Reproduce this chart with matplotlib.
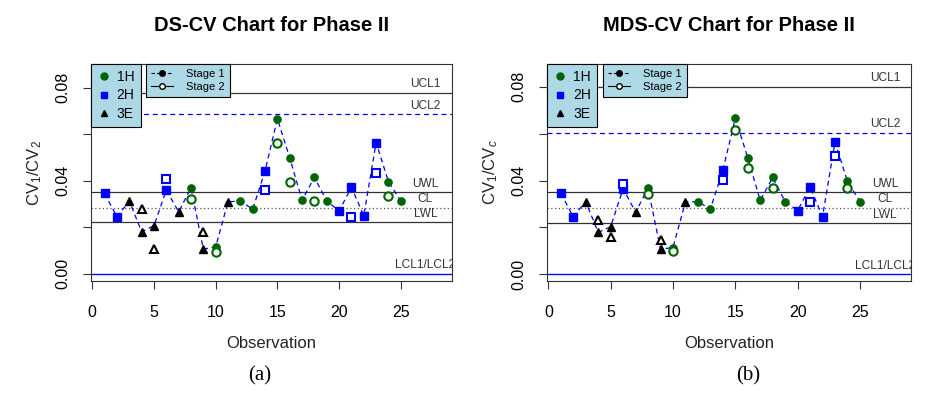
import numpy as np
import matplotlib
matplotlib.use('Agg')
import matplotlib.pyplot as plt
from matplotlib.lines import Line2D
from matplotlib.transforms import offset_copy

plt.rcParams['font.family'] = ['Liberation Sans', 'DejaVu Sans']
plt.rcParams['mathtext.fontset'] = 'custom'
plt.rcParams['mathtext.rm'] = 'Liberation Sans'
plt.rcParams['mathtext.it'] = 'Liberation Sans:italic'

# observations and group of each observation
obs = np.arange(1, 26)
group = ['2H', '2H', '3E', '3E', '3E', '2H', '3E', '1H', '3E', '1H',
         '3E', '1H', '1H', '2H', '1H', '1H', '1H', '1H', '1H', '2H',
         '2H', '2H', '2H', '1H', '1H']

nan = np.nan
# DS-CV chart, stage 1 (filled) and stage 2 (open)
ds_stage1 = [0.0345, 0.0244, 0.0312, 0.0180, 0.0206, 0.0359, 0.0266, 0.0369, 0.0105, 0.0115,
             0.0309, 0.0312, 0.0277, 0.0442, 0.0666, 0.0498, 0.0316, 0.0414, 0.0312, 0.0270,
             0.0371, 0.0249, 0.0564, 0.0395, 0.0312]
ds_stage2 = [nan, nan, nan, 0.0277, 0.0105, 0.0405, nan, 0.0323, 0.0180, 0.0091,
             nan, nan, nan, 0.0359, 0.0563, 0.0395, nan, 0.0312, nan, nan,
             0.0244, nan, 0.0435, 0.0335, nan]
ds_limits = {'UCL1': 0.0779, 'UCL2': 0.0686, 'UWL': 0.0349, 'CL': 0.0283,
             'LWL': 0.0220, 'LCL1/LCL2': 0.0}

# MDS-CV chart
mds_stage1 = [0.0346, 0.0246, 0.0310, 0.0179, 0.0203, 0.0365, 0.0265, 0.0367, 0.0107, 0.0114,
              0.0308, 0.0310, 0.0278, 0.0443, 0.0665, 0.0498, 0.0315, 0.0413, 0.0310, 0.0272,
              0.0372, 0.0246, 0.0564, 0.0396, 0.0310]
mds_stage2 = [nan, nan, nan, 0.0232, 0.0161, 0.0386, nan, 0.0343, 0.0147, 0.0101,
              nan, nan, nan, 0.0403, 0.0617, 0.0453, nan, 0.0367, nan, nan,
              0.0310, nan, 0.0503, 0.0367, nan]
mds_limits = {'UCL1': 0.0800, 'UCL2': 0.0604, 'UWL': 0.0350, 'CL': 0.0284,
              'LWL': 0.0218, 'LCL1/LCL2': 0.0}

GREEN = '#006400'
BLUE = '#0000ff'
styles = {'1H': ('o', GREEN), '2H': ('s', BLUE), '3E': ('^', 'black')}
line_style = {'UCL1': ('-', '#333333'), 'UCL2': ((0, (4, 3)), BLUE),
              'UWL': ('-', '#333333'), 'CL': ((0, (1, 2)), '#555555'),
              'LWL': ('-', '#333333'), 'LCL1/LCL2': ('-', BLUE)}


def draw_chart(ax, stage1, stage2, limits, title, ylabel, xlim, ylim):
    stage1 = np.array(stage1)
    stage2 = np.array(stage2)
    lbl_tr = offset_copy(ax.transData, fig=ax.figure, x=0, y=6, units='points')
    for name, val in limits.items():
        ls, col = line_style[name]
        if name == 'LCL1/LCL2':
            ax.axhline(val, color='#333333', lw=0.8, zorder=1)
        ax.axhline(val, color=col, ls=ls, lw=0.9, zorder=1)
        ax.text(27, val, name, transform=lbl_tr, ha='center', va='center',
                fontsize=8.6, color='#333333', clip_on=True)

    # stage 1 connected by dashed line
    ax.plot(obs, stage1, ls=(0, (4, 3)), color=BLUE, lw=0.9, zorder=2)
    grp = np.array(group)
    for g, (m, c) in styles.items():
        sel = grp == g
        ax.plot(obs[sel], stage1[sel], ls='none', marker=m, color=c, ms=5.2, zorder=3)
        ax.plot(obs[sel], stage2[sel], ls='none', marker=m, mfc='white', mec=c,
                mew=1.5, ms=6, zorder=4)

    ax.set_xlim(*xlim)
    ax.set_ylim(*ylim)
    ax.set_xticks([0, 5, 10, 15, 20, 25])
    ax.set_yticks([0.0, 0.02, 0.04, 0.06, 0.08])
    ax.set_yticklabels(['0.00', '', '0.04', '', '0.08'], rotation=90, va='center')
    ax.tick_params(axis='both', length=6, width=0.8, labelsize=11.5, color='#333333')
    ax.tick_params(axis='x', pad=11)
    ax.tick_params(axis='y', pad=9)
    for sp in ax.spines.values():
        sp.set_color('#333333')
        sp.set_linewidth(0.8)
    ax.set_xlabel('Observation', fontsize=12, labelpad=12, color='#222222')
    ax.set_ylabel(ylabel, fontsize=12, labelpad=8, color='#222222')
    ax.set_title(title, fontsize=14.5, fontweight='bold', pad=24)

    h1 = [Line2D([], [], ls='none', marker=styles[g][0], color=styles[g][1], ms=5)
          for g in ['1H', '2H', '3E']]
    leg1 = ax.legend(h1, ['1H', '2H', '3E'], loc='upper left', bbox_to_anchor=(0, 1),
                     fontsize=10, handlelength=0.9, handletextpad=0.5, borderpad=0.45,
                     labelspacing=0.3, borderaxespad=0, fancybox=False, framealpha=1,
                     facecolor='#add8e6', edgecolor='black')
    leg1.get_frame().set_linewidth(0.8)
    ax.add_artist(leg1)
    h2 = [Line2D([], [], ls=(0, (3, 2)), color='black', lw=0.8, marker='o', ms=4),
          Line2D([], [], ls='-', color='black', lw=0.8, marker='o', mfc='white', ms=4)]
    leg2 = ax.legend(h2, ['Stage 1', 'Stage 2'], loc='upper left',
                     bbox_to_anchor=(0.152, 1), fontsize=8, handlelength=2.0,
                     handletextpad=1.2, borderpad=0.45, labelspacing=0.3,
                     borderaxespad=0, fancybox=False, framealpha=1,
                     facecolor='#add8e6', edgecolor='black')
    leg2.get_frame().set_linewidth(0.8)


fig = plt.figure(figsize=(9.28, 4.08), dpi=100)
ax1 = fig.add_axes([0.0981, 0.3113, 0.389, 0.5318])
ax2 = fig.add_axes([0.5898, 0.3113, 0.3919, 0.5318])

draw_chart(ax1, ds_stage1, ds_stage2, ds_limits, 'DS-CV Chart for Phase II',
           r'CV$_1$/CV$_2$', (-0.1, 29.15), (-0.0032, 0.0902))
draw_chart(ax2, mds_stage1, mds_stage2, mds_limits, 'MDS-CV Chart for Phase II',
           r'CV$_1$/CV$_c$', (-0.08, 29.1), (-0.00286, 0.0897))

fig.text(0.28, 0.078, '(a)', fontsize=15, family='Liberation Serif', ha='center', va='center')
fig.text(0.806, 0.078, '(b)', fontsize=15, family='Liberation Serif', ha='center', va='center')

fig.savefig('out.png', dpi=100)
